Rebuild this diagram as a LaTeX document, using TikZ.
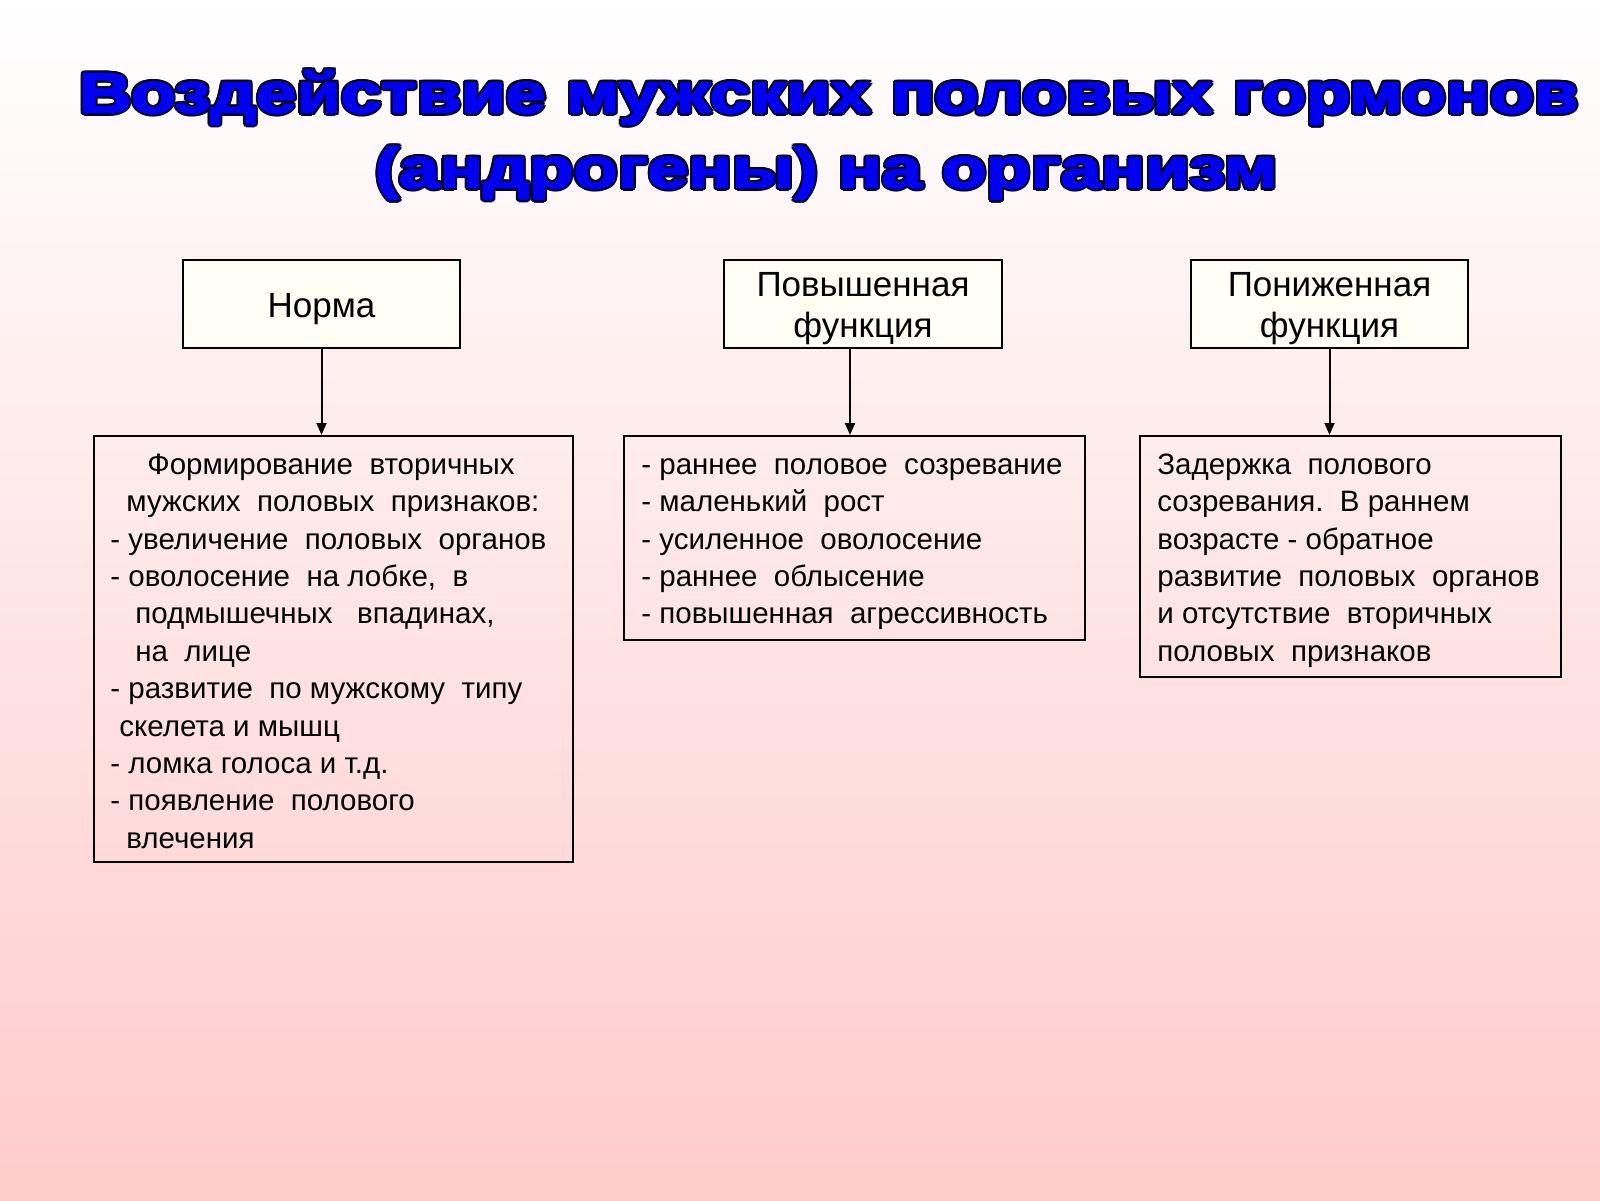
\documentclass[tikz,border=0pt]{standalone}
\usepackage{fontspec}
\setmainfont{Liberation Sans}
\usetikzlibrary{arrows.meta}
\definecolor{bgpink}{RGB}{255,203,203}
\definecolor{ttlblue}{RGB}{0,0,245}
\definecolor{ttlline}{RGB}{0,0,45}
\definecolor{boxfill}{RGB}{255,255,246}
\newlength\ttlw
\newcommand{\ttlfont}{\fontsize{28.5}{34}\selectfont\bfseries}
\newcommand{\fittitle}[2]{%
  \settowidth\ttlw{\ttlfont #2}%
  \pgfmathsetmacro\ttlsx{#1/\ttlw}%
  \scalebox{\ttlsx}[1]{\ttlfont #2}}
\newcommand{\ttlone}{\fittitle{749.5}{Воздействие мужских половых гормонов}}
\newcommand{\ttltwo}{\fittitle{451}{(андрогены) на организм}}
\begin{document}
\begin{tikzpicture}[x=0.5pt,y=-0.5pt,
  ttl/.style={inner sep=0pt, anchor=base},
  topbox/.style={draw=black, line width=1pt, fill=boxfill, minimum width=#1,
    minimum height=44pt, inner sep=0pt},
  toptext/.style={inner sep=0pt, align=center,
    font=\fontsize{17.5}{20.5}\selectfont},
  lowbox/.style 2 args={draw=black, line width=1pt, minimum width=#1,
    minimum height=#2, inner sep=0pt},
  lowtext/.style={anchor=north west, inner sep=0pt, align=left,
    font=\fontsize{14.75}{18.7}\selectfont},
  conn/.style={line width=1pt, -{Triangle[length=6pt,width=5pt]}}]
\useasboundingbox (0,0) rectangle (1600,1200);
\shade[top color=white, bottom color=bgpink] (0,0) rectangle (1600,1200);

% title
\coordinate (p1) at (829,113);
\coordinate (p2) at (826.5,188);
\foreach \a [count=\i] in {0,22.5,...,337.5}{
  \node[ttl, text=ttlline, shift={(\a:1.5pt)}] (t1o\i) at (p1) {\ttlone};
  \node[ttl, text=ttlline, shift={(\a:1.5pt)}] (t2o\i) at (p2) {\ttltwo};
}
\foreach \a [count=\i] in {0,45,...,315}{
  \node[ttl, text=ttlblue, shift={(\a:0.4pt)}] (t1b\i) at (p1) {\ttlone};
  \node[ttl, text=ttlblue, shift={(\a:0.4pt)}] (t2b\i) at (p2) {\ttltwo};
}
\node[ttl, text=ttlblue] (title1) at (p1) {\ttlone};
\node[ttl, text=ttlblue] (title2) at (p2) {\ttltwo};

% top boxes
\node[topbox=138.5pt] (t1) at (321.5,304) {};
\node[topbox=139pt] (t2) at (863,304) {};
\node[topbox=138.5pt] (t3) at (1329.5,304) {};
\node[toptext] (l1) at ([yshift=-2.5pt]t1.center) {Норма};
\node[toptext] (l2) at ([yshift=-2.5pt]t2.center) {Повышенная\\функция};
\node[toptext] (l3) at ([yshift=-2.5pt]t3.center) {Пониженная\\функция};

% lower boxes
\node[lowbox={239.5pt}{213pt}] (b1) at (333.5,649) {};
\node[lowbox={230.5pt}{102pt}] (b2) at (854.5,538) {};
\node[lowbox={210.5pt}{120.5pt}] (b3) at (1350.5,556.5) {};

\node[lowtext] (x1) at (110,447.8) {\strut\hspace*{18.5pt}Формирование~~вторичных\\
\hspace*{8pt}мужских~~половых~~признаков:\\
- увеличение~~половых~~органов\\
- оволосение~~на лобке,~~в\\
\hspace*{12.5pt}подмышечных~~~впадинах,\\
\hspace*{12.5pt}на~~лице\\
- развитие~~по мужскому~~типу\\
\hspace*{4.5pt}скелета и мышц\\
- ломка голоса и т.д.\\
- появление~~полового\\
\hspace*{8pt}влечения};

\node[lowtext] (x2) at (641,447.8) {\strut- раннее~~половое~~созревание\\
- маленький~~рост\\
- усиленное~~оволосение\\
- раннее~~облысение\\
- повышенная~~агрессивность};

\node[lowtext] (x3) at (1157,447.8) {\strut Задержка~~полового\\
созревания.~~В раннем\\
возрасте - обратное\\
развитие~~половых~~органов\\
и отсутствие~~вторичных\\
половых~~признаков};

% connectors
\coordinate (a2) at (850,0);
\draw[conn] (t1.south) -- (t1.south |- b1.north);
\draw[conn] (t2.south -| a2) -- (b2.north -| a2);
\draw[conn] (t3.south) -- (t3.south |- b3.north);
\end{tikzpicture}
\end{document}
